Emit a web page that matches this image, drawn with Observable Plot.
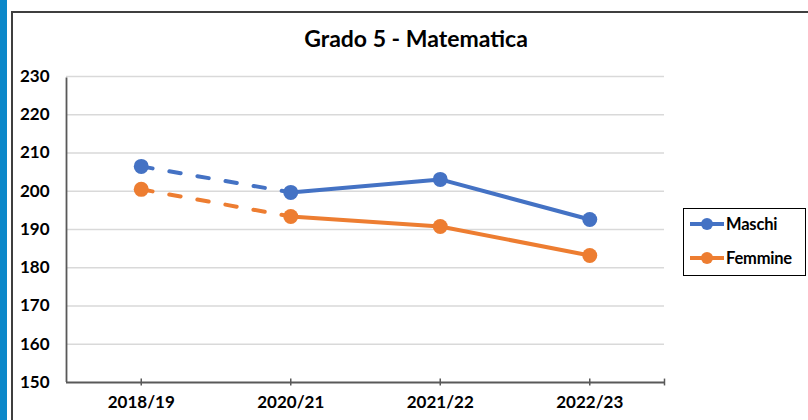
<!DOCTYPE html>
<html>
<head>
<meta charset="utf-8">
<script src="https://cdn.jsdelivr.net/npm/d3@7"></script>
<script src="https://cdn.jsdelivr.net/npm/@observablehq/plot@0.6"></script>
<style>
  html, body { margin: 0; padding: 0; background: #fff; }
  #wrap { position: relative; width: 808px; height: 420px; overflow: hidden; background: #fff; font-family: Lato, "Open Sans", sans-serif; }
  #strip { position: absolute; left: 0; top: 0; width: 7px; height: 420px; background: #0b88c9; }
  #border { position: absolute; left: 11px; top: 11px; width: 820px; height: 430px; border: 2px solid #3f3f3f; box-sizing: border-box; }
  #title { position: absolute; top: 26px; left: 416px; transform: translateX(-50%); font-size: 23px; font-weight: 700; color: #000; white-space: nowrap; line-height: 1.1; }
  #chart { position: absolute; left: 0; top: 0; }
  #chart svg text { font-weight: 700; fill: #000; }
  #legend { position: absolute; left: 683px; top: 208px; width: 123px; height: 68px; border: 1px solid #000; box-sizing: border-box; background: #fff; }
  .item { position: absolute; left: 5px; height: 20px; display: flex; align-items: center; font-size: 16.5px; font-weight: 700; color: #000; letter-spacing: -0.2px; }
  .item svg { margin-right: 1px; }
</style>
</head>
<body>
<div id="wrap">
  <div id="strip"></div>
  <div id="border"></div>
  <div id="chart"></div>
  <div id="title">Grado 5 - Matematica</div>
  <div id="legend"></div>
</div>
<script>
const years = ["2018/19", "2020/21", "2021/22", "2022/23"];
const maschi = [206.5, 199.7, 203.1, 192.6];
const femmine = [200.5, 193.4, 190.8, 183.2];
const yTicks = [150, 160, 170, 180, 190, 200, 210, 220, 230];
const seriesNames = ["Maschi", "Femmine"];
const seriesColors = ["#4472C4", "#ED7D31"];
const seriesValues = [maschi, femmine];

const rows = seriesNames.flatMap((name, s) =>
  seriesValues[s].map((v, i) => ({ series: name, i, year: years[i], v })));

const xTickPos = years.map((_, i) => i).concat([years.length - 0.5]);

const chart = Plot.plot({
  width: 808,
  height: 420,
  marginLeft: 66,
  marginRight: 144,
  marginTop: 76,
  marginBottom: 38,
  style: { fontFamily: "Lato, 'Open Sans', sans-serif", fontSize: "17px", background: "transparent", overflow: "visible" },
  x: { type: "linear", domain: [-0.5, years.length - 0.5] },
  y: { domain: [150, 230] },
  color: { domain: seriesNames, range: seriesColors },
  marks: [
    Plot.gridY(yTicks.slice(1), { stroke: "#d9d9d9", strokeOpacity: 1, strokeWidth: 1.5 }),
    Plot.axisY({ ticks: yTicks, tickSize: 0, tickPadding: 17, label: null, fontSize: 17 }),
    Plot.axisX({ ticks: years.map((_, i) => i), tickSize: 0, tickPadding: 13, tickFormat: i => years[i], label: null, fontSize: 17 }),
    Plot.ruleY([150], { stroke: "#595959", strokeWidth: 1.8 }),
    Plot.ruleX([-0.5], { y1: 150, y2: 229.6, stroke: "#595959", strokeWidth: 1.8 }),
    Plot.ruleX(xTickPos, { y1: 149.1, y2: 150.9, stroke: "#595959", strokeWidth: 1.5 }),
    Plot.line(rows.filter(d => d.i <= 1), { x: "i", y: "v", z: "series", stroke: "series", strokeWidth: 4, strokeDasharray: "11.5,17", strokeLinecap: "round" }),
    Plot.line(rows.filter(d => d.i >= 1), { x: "i", y: "v", z: "series", stroke: "series", strokeWidth: 4, strokeLinecap: "round", strokeLinejoin: "round" }),
    Plot.dot(rows, { x: "i", y: "v", fill: "series", r: 7.5, stroke: "none" })
  ]
});
document.getElementById("chart").appendChild(chart);

// Legend
const legend = document.getElementById("legend");
seriesNames.forEach((name, s) => {
  const item = document.createElement("div");
  item.className = "item";
  item.style.top = (5 + s * 34) + "px";
  item.innerHTML = `<svg width="36" height="16"><line x1="1" y1="8" x2="35" y2="8" stroke="${seriesColors[s]}" stroke-width="4"/><circle cx="18" cy="8" r="6" fill="${seriesColors[s]}"/></svg><span>${name}</span>`;
  legend.appendChild(item);
});
</script>
</body>
</html>
